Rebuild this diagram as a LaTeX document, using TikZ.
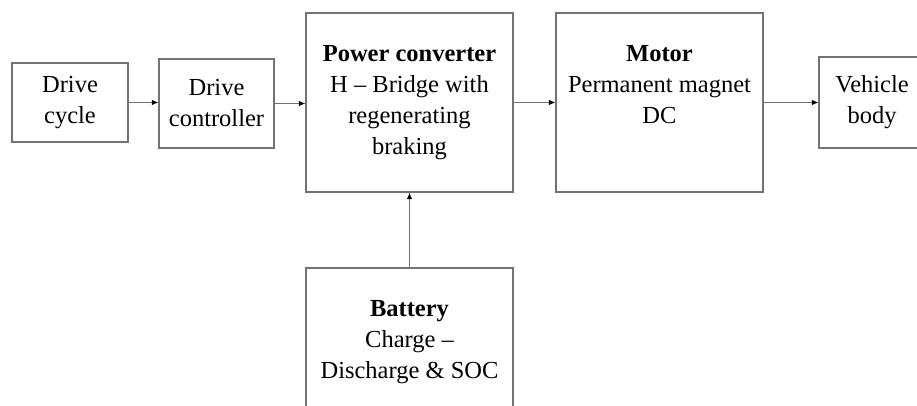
\documentclass[tikz,border=0pt]{standalone}
\usepackage{fontspec}
\setmainfont{Liberation Serif}
\usetikzlibrary{arrows.meta, positioning, calc}

\begin{document}
\begin{tikzpicture}[x=1pt, y=-1pt,
  bx/.style={rectangle, draw=black!55, line width=1.1pt, align=center,
    font=\fontsize{24.5}{31}\selectfont, inner sep=0pt},
  big/.style={bx, minimum width=207pt, minimum height=179pt},
  arr/.style={-{Latex[length=6.5pt,width=5.5pt,black]}, black!55, line width=1.1pt}
]
\useasboundingbox (0,0) rectangle (917,405);
\clip (0,0) rectangle (917,405);

%% inputs
\node[bx, minimum width=116pt, minimum height=79pt] (cycle) at (70,102.5) {Drive\\cycle};
\node[bx, minimum width=115pt, minimum height=89pt] (ctrl) at (216.5,103.5) {Drive\\controller};

%% converter, motor, load
\node[big] (conv)  at (409.5,102.5) {\textbf{Power converter}\\H -- Bridge with\\regenerating\\braking};
\node[big] (motor) at (659.5,102.5) {\textbf{Motor}\\Permanent magnet\\DC\\\vphantom{g}};
\node[bx, minimum width=106pt, minimum height=91pt] (body) at (872,102.5) {Vehicle\\body};

%% supply
\node[big] (bat) at (409.5,357.5) {\textbf{Battery}\\Charge --\\Discharge \& SOC\\\vphantom{g}};

%% signal flow
\draw[arr] (cycle.east) -- (cycle.east -| ctrl.west);
\draw[arr] (ctrl.east)  -- (ctrl.east -| conv.west);
\draw[arr] (conv)  -- (motor);
\draw[arr] (motor) -- (body);
\draw[arr] (bat)   -- (conv);

\end{tikzpicture}
\end{document}
